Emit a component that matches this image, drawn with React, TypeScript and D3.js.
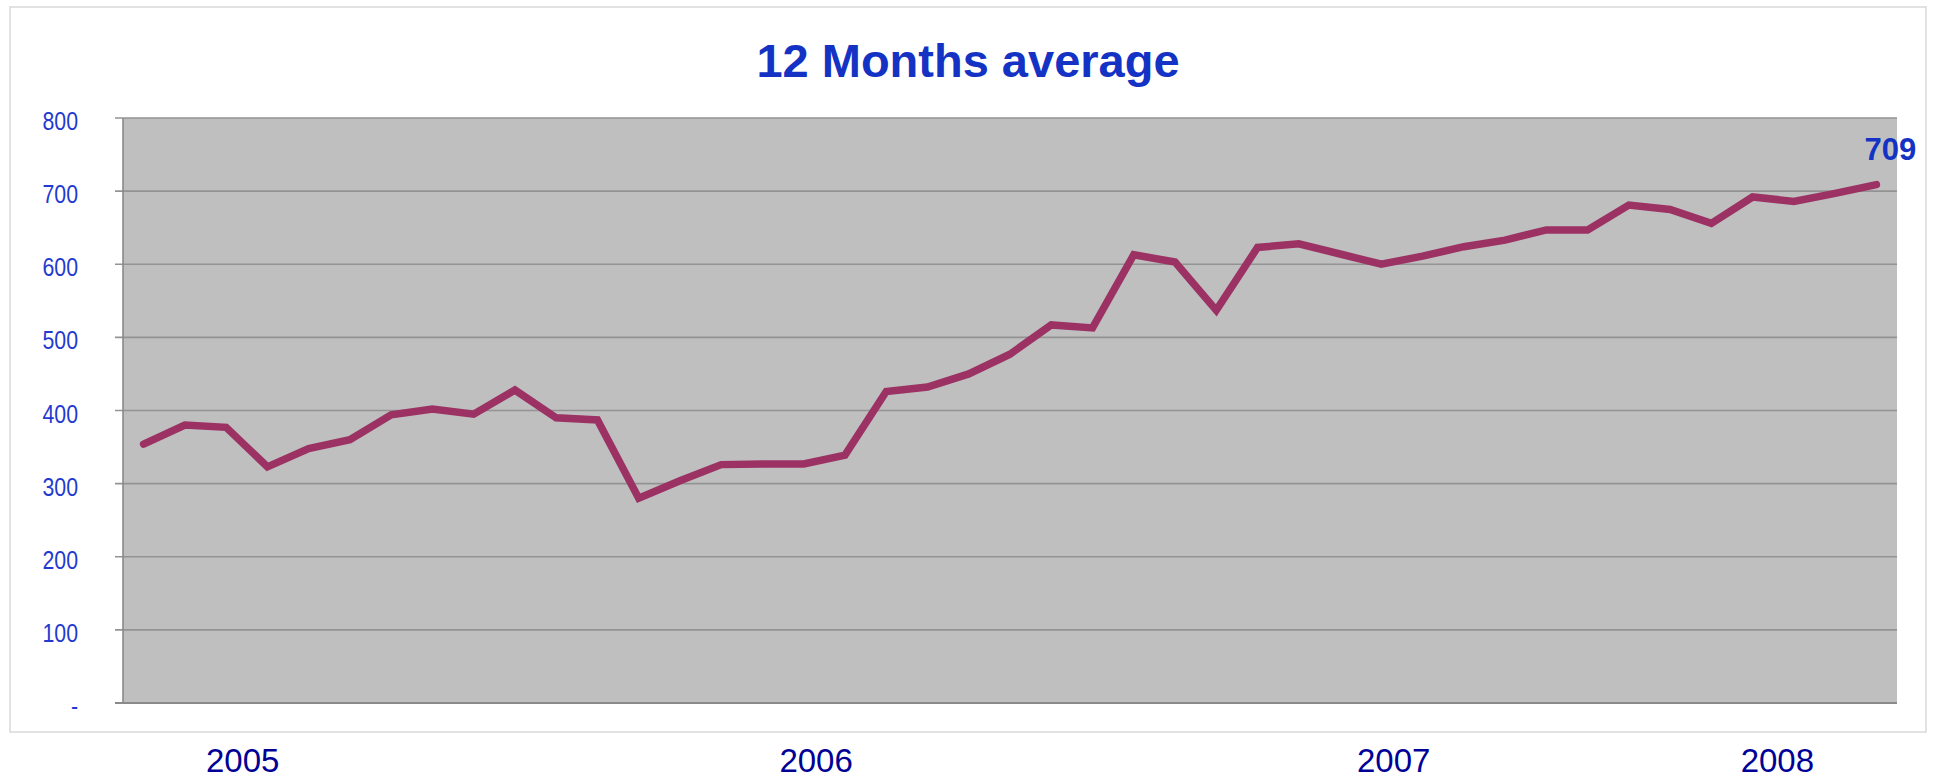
import React from 'react';
import * as d3 from 'd3';

// 12-month rolling average, one value per period
const periods = d3.range(1, 44);
const avgValues = [
  354, 380, 377, 323, 348, 360, 394, 402, 395, 428,
  390, 387, 280, 304, 326, 327, 327, 339, 426, 432,
  450, 477, 517, 513, 613, 603, 537, 623, 628, 614,
  600, 611, 624, 633, 647, 647, 681, 675, 656, 692,
  686, 697, 709,
];
const yTicks = [0, 100, 200, 300, 400, 500, 600, 700, 800];
const yearLabels = ['2005', '2006', '2007', '2008'];
// where each year label sits, in period units
const yearLabelPos = [3.4, 17.3, 31.3, 40.6];

const W = 1933;
const H = 778;
const frame = { x: 10, y: 7, w: 1916, h: 725 };
const plot = { left: 123, right: 1897, top: 118, bottom: 703 };

const FONT = '"Liberation Sans", Arial, Helvetica, sans-serif';
const LINE_COLOR = '#9c3264';
const AXIS_BLUE = '#1f3bd0';
const TITLE_BLUE = '#1432c4';
const YEAR_NAVY = '#000096';

export default function App() {
  const x = d3
    .scalePoint<number>()
    .domain(periods)
    .range([plot.left, plot.right])
    .padding(0.5);
  // linear version of x for the year labels (period index -> px)
  const step = x.step();
  const xPos = (p: number) => (x(1) as number) + (p - 1) * step;

  const y = d3.scaleLinear().domain([0, 800]).range([plot.bottom, plot.top]);

  const line = d3
    .line<number>()
    .x((_, i) => x(periods[i]) as number)
    .y((d) => y(d));

  const lastIdx = avgValues.length - 1;
  const lastX = x(periods[lastIdx]) as number;
  const lastY = y(avgValues[lastIdx]);

  return (
    <svg
      width={W}
      height={H}
      style={{ position: 'absolute', left: 0, top: 0, background: '#fff' }}
      fontFamily={FONT}
    >
      <rect
        x={frame.x}
        y={frame.y}
        width={frame.w}
        height={frame.h}
        fill="#fff"
        stroke="#d9d9d9"
        strokeWidth={1.5}
      />

      <text
        x={frame.x + frame.w / 2}
        y={77}
        textAnchor="middle"
        fontSize={47}
        fontWeight="bold"
        fill={TITLE_BLUE}
      >
        12 Months average
      </text>

      <rect
        x={plot.left}
        y={plot.top}
        width={plot.right - plot.left}
        height={plot.bottom - plot.top}
        fill="#bfbfbf"
      />

      {yTicks.map((t) => (
        <g key={t}>
          <line
            x1={plot.left - 8}
            x2={plot.right}
            y1={y(t)}
            y2={y(t)}
            stroke={t === 0 ? '#8a8a8a' : '#939393'}
            strokeWidth={t === 0 ? 2 : 1.7}
          />
          <text
            transform={`translate(78,${y(t) + 12}) scale(0.82,1)`}
            textAnchor="end"
            fontSize={26}
            fill={AXIS_BLUE}
          >
            {t === 0 ? '-' : t}
          </text>
        </g>
      ))}

      <line
        x1={plot.left}
        x2={plot.left}
        y1={plot.top}
        y2={plot.bottom}
        stroke="#8a8a8a"
        strokeWidth={1.6}
      />

      <path
        d={line(avgValues) || ''}
        fill="none"
        stroke={LINE_COLOR}
        strokeWidth={7.5}
        strokeLinejoin="miter"
        strokeLinecap="round"
      />

      <text
        x={lastX + 14}
        y={lastY - 25}
        textAnchor="middle"
        fontSize={31}
        fontWeight="bold"
        fill={TITLE_BLUE}
      >
        {avgValues[lastIdx]}
      </text>

      {yearLabels.map((yr, i) => (
        <text
          key={yr}
          x={xPos(yearLabelPos[i])}
          y={772}
          textAnchor="middle"
          fontSize={33}
          fill={YEAR_NAVY}
        >
          {yr}
        </text>
      ))}
    </svg>
  );
}
